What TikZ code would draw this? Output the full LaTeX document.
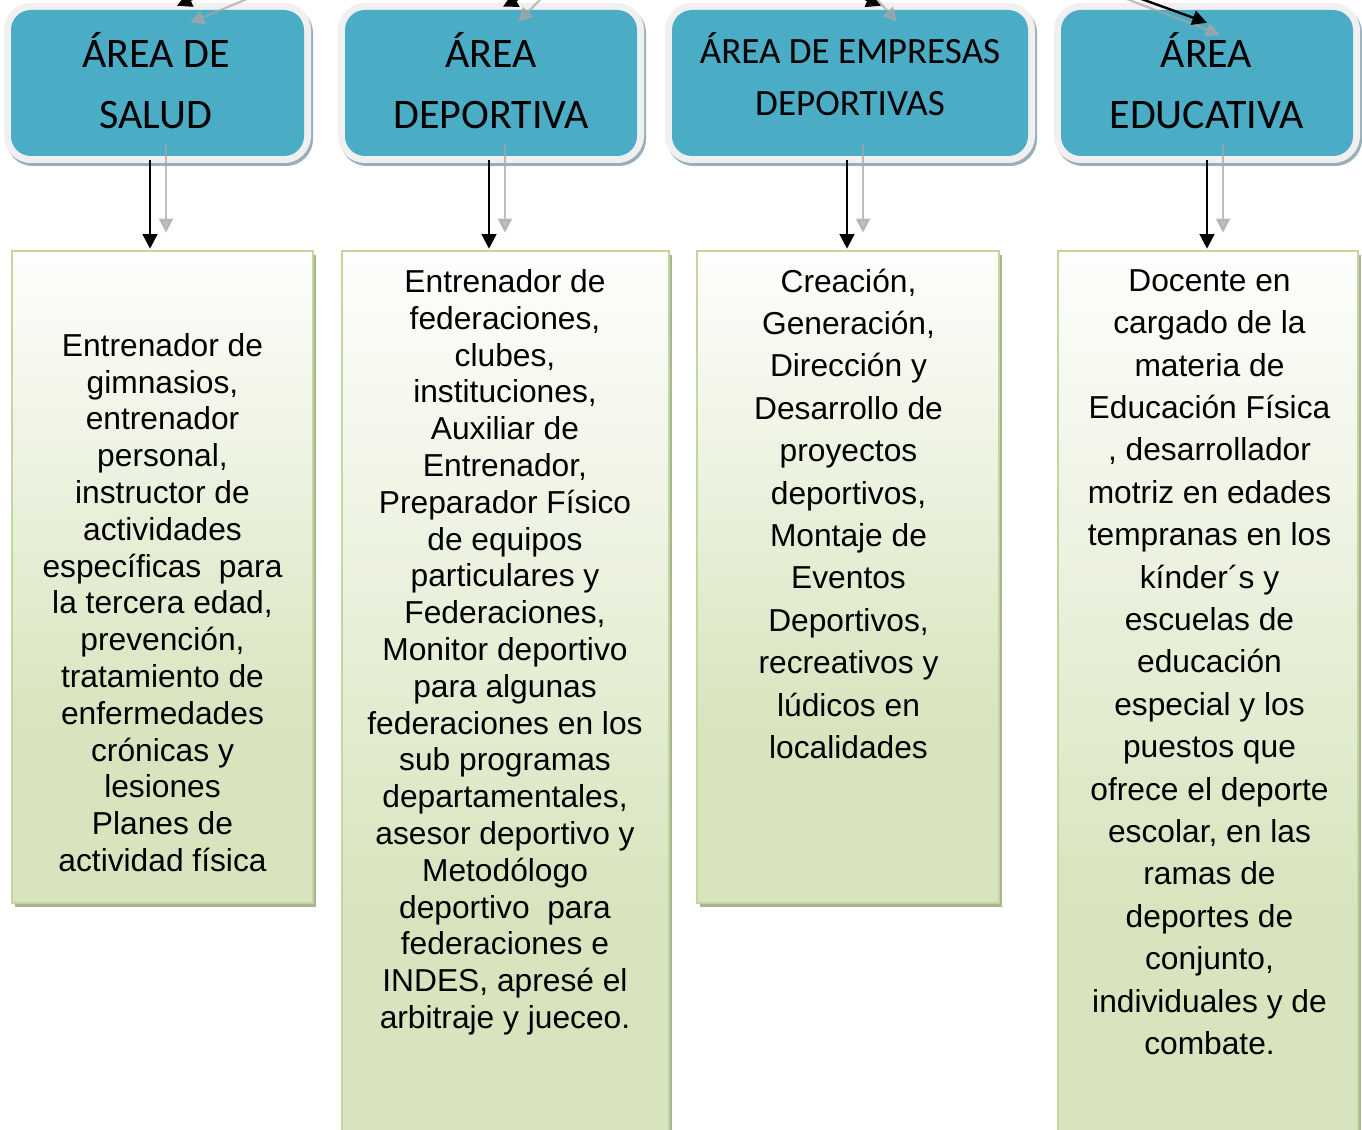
\documentclass[tikz,border=0pt]{standalone}
\usepackage{fontspec}
\setmainfont{Liberation Sans}
\newfontfamily\hdrfont{Carlito}
\usetikzlibrary{arrows.meta,calc}

\definecolor{hblue}{HTML}{4BACC6}
\definecolor{hframe}{HTML}{F0F0F0}
\definecolor{hshadow}{HTML}{98AFBA}
\definecolor{gfill}{HTML}{D7E4BD}
\definecolor{gborder}{HTML}{C3D69B}
\definecolor{gshadow}{HTML}{A7B596}
\definecolor{garrowc}{HTML}{A6A6A6}
\colorlet{gtop}{white!96!gfill}

\pgfdeclareverticalshading{greensh}{100bp}{color(0bp)=(gfill); color(38bp)=(gfill); color(75bp)=(gtop); color(100bp)=(gtop)}

\tikzset{
  hdrbox/.style={rounded corners=15pt, fill=hblue, minimum width=#1, minimum height=109.5pt, inner sep=0pt,
    preaction={draw=hshadow, fill=hshadow, line width=10.5pt, transform canvas={shift={(1.5pt,-2.25pt)}}},
    preaction={draw=hframe, line width=10.5pt}},
  hdrtxt/.style={anchor=base, align=center, inner sep=0pt, font=\hdrfont\fontsize{31.5pt}{45.75pt}\selectfont},
  gbox/.style={draw=gborder, line width=1.9pt, shade, shading=greensh, minimum width=#1, inner sep=0pt,
    preaction={fill=gshadow, transform canvas={shift={(2.25pt,-3pt)}}}},
  btxt/.style={anchor=base, align=center, inner sep=0pt, font=\fontsize{23.8pt}{27.6pt}\selectfont},
  btxtw/.style={anchor=base, align=center, inner sep=0pt, font=\fontsize{23.8pt}{31.8pt}\selectfont},
  barrow/.style={draw=black, line width=1.8pt, -{Triangle[length=11pt,width=11pt]}},
  garrow/.style={draw=garrowc, line width=1.6pt, opacity=0.72, -{Triangle[length=10.5pt,width=10.5pt]}}
}

\begin{document}
\begin{tikzpicture}[x=0.75pt,y=-0.75pt]
\useasboundingbox (0,0) rectangle (1362,1130);
\clip (0,0) rectangle (1362,1130);

% green boxes
\node[gbox=225.75pt, minimum height=489pt] (b1) at (162.5,577) {};
\node[gbox=245.25pt, minimum height=674.25pt] (b2) at (505.5,700.5) {};
\node[gbox=226.5pt, minimum height=489pt] (b3) at (848,577) {};
\node[gbox=225pt, minimum height=674.25pt] (b4) at (1208,700.5) {};

% header boxes
\node[hdrbox=219.75pt] (h1) at (157.5,83) {};
\node[hdrbox=219pt] (h2) at (491,83) {};
\node[hdrbox=267pt] (h3) at (850,83) {};
\node[hdrbox=219pt] (h4) at (1207,83) {};

% header texts (anchored at the baseline of the last line)
\node[hdrtxt] (h1t) at (156,128.5) {ÁREA DE\\SALUD};
\node[hdrtxt] (h2t) at (491,128.5) {ÁREA\\DEPORTIVA};
\node[hdrtxt, font=\hdrfont\fontsize{27.8pt}{39pt}\selectfont] (h3t) at (850,115.5) {ÁREA DE EMPRESAS\\DEPORTIVAS};
\node[hdrtxt] (h4t) at (1206.5,128.5) {ÁREA\\EDUCATIVA};

% body texts (anchored at the baseline of the last line)
\node[btxt] (t1) at (162.5,871.5) {Entrenador de\\gimnasios,\\entrenador\\personal,\\instructor de\\actividades\\específicas~~para\\la tercera edad,\\prevención,\\tratamiento de\\enfermedades\\crónicas y\\lesiones\\Planes de\\actividad física};
\node[btxt] (t2) at (505,1028.5) {Entrenador de\\federaciones,\\clubes,\\instituciones,\\Auxiliar de\\Entrenador,\\Preparador Físico\\de equipos\\particulares y\\Federaciones,\\Monitor deportivo\\para algunas\\federaciones en los\\sub programas\\departamentales,\\asesor deportivo y\\Metodólogo\\deportivo~~para\\federaciones e\\INDES, apresé el\\arbitraje y jueceo.};
\node[btxtw] (t3) at (848.5,758.5) {Creación,\\Generación,\\Dirección y\\Desarrollo de\\proyectos\\deportivos,\\Montaje de\\Eventos\\Deportivos,\\recreativos y\\lúdicos en\\localidades};
\node[btxtw] (t4) at (1209.5,1054.5) {Docente en\\cargado de la\\materia de\\Educación Física\\, desarrollador\\motriz en edades\\tempranas en los\\kínder´s y\\escuelas de\\educación\\especial y los\\puestos que\\ofrece el deporte\\escolar, en las\\ramas de\\deportes de\\conjunto,\\individuales y de\\combate.};

% arrows from headers to boxes
\foreach \i/\x in {1/150,2/489,3/847,4/1207} {
  \coordinate (k\i) at (\x,0);
  \draw[garrow] ($(h\i.south -| k\i)+(16,-12)$) -- ($(b\i.north -| k\i)+(16,-17)$);
  \draw[barrow] ($(h\i.south -| k\i)+(0,4)$) -- ($(b\i.north -| k\i)+(0,-1)$);
}

% incoming arrows from the parent above the picture
\coordinate (p1b) at (235,-20);
\coordinate (p1g) at (300,-23);
\coordinate (p2b) at (545,-15);
\coordinate (p2g) at (565,-25);
\coordinate (p3b) at (820,-20);
\coordinate (p3g) at (855,-25);
\coordinate (p4b) at (1100,-16);
\coordinate (p4g) at (1090,-15);
\draw[garrow] (p1g) -- ($(h1.north)+(32.5,13)$);
\draw[barrow] (p1b) -- ($(h1.north)+(19.5,-4)$);
\draw[garrow] (p2g) -- ($(h2.north)+(27,12)$);
\draw[barrow] (p2b) -- ($(h2.north)+(12,-3)$);
\draw[garrow] (p3g) -- ($(h3.north)+(47,12)$);
\draw[barrow] (p3b) -- ($(h3.north)+(31,-4)$);
\draw[garrow] (p4g) -- ($(h4.north)+(13,25)$);
\draw[barrow] (p4b) -- ($(h4.north)+(0,13)$);
\end{tikzpicture}
\end{document}
